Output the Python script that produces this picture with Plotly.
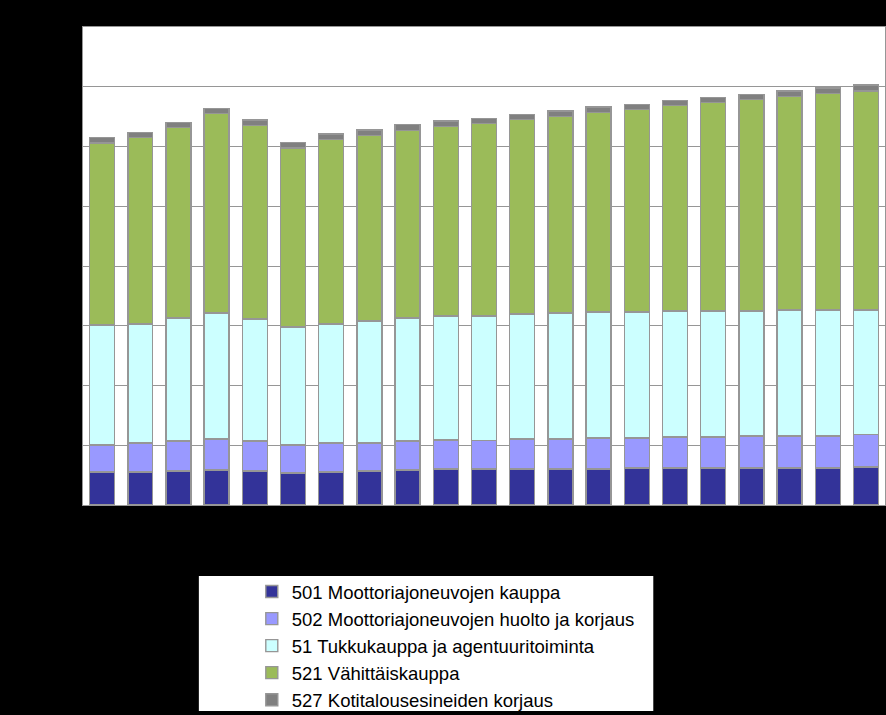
import plotly.graph_objects as go

years = [str(y) for y in range(1995, 2016)]

s501 = [27.6, 27.6, 28.5, 29.3, 28.5, 26.8, 27.6, 28.5, 29.3, 30.1, 30.1,
        30.1, 30.1, 30.1, 31.0, 31.0, 31.0, 31.0, 31.0, 31.0, 31.8]
s502 = [22.6, 24.3, 25.1, 25.9, 25.1, 23.4, 24.3, 23.4, 24.3, 24.3, 23.7,
        25.1, 25.1, 25.9, 25.1, 25.9, 25.9, 26.8, 26.8, 26.8, 27.0]
s51 = [100.4, 99.6, 102.9, 105.4, 102.1, 98.7, 99.6, 102.1, 102.9, 103.8, 104.3,
       104.6, 105.4, 105.4, 105.4, 105.4, 105.4, 104.6, 105.4, 105.4, 104.3]
s521 = [152.3, 155.9, 159.2, 166.8, 161.8, 149.8, 154.2, 155.1, 157.1, 158.4, 160.9,
        162.6, 164.6, 167.1, 169.3, 171.8, 174.3, 176.8, 178.8, 181.0, 183.5]
s527 = [4.4, 4.4, 4.6, 4.6, 4.6, 4.8, 4.6, 4.6, 4.6, 4.8, 4.4,
        4.6, 4.6, 4.6, 4.6, 4.4, 4.4, 4.4, 4.6, 4.8, 4.8]

names = ["501 Moottoriajoneuvojen kauppa",
         "502 Moottoriajoneuvojen huolto ja korjaus",
         "51 Tukkukauppa ja agentuuritoiminta",
         "521 Vähittäiskauppa",
         "527 Kotitalousesineiden korjaus"]
colors = ["#333399", "#9999FF", "#CCFFFF", "#9BBB59", "#808080"]
series = [s501, s502, s51, s521, s527]

fig = go.Figure()
for i, (n, c, s) in enumerate(zip(names, colors, series)):
    fig.add_trace(go.Bar(
        x=years, y=s, name=n, legendgroup=f"g{i}",
        marker=dict(color=c, line=dict(color="#969696", width=1.4)),
    ))

fig.update_layout(
    width=886, height=715,
    barmode="stack", bargap=0.346,
    paper_bgcolor="black", plot_bgcolor="white",
    margin=dict(l=83, r=1, t=27, b=210, autoexpand=False),
    font=dict(family="Liberation Sans, Arial, sans-serif", color="black", size=13),
    showlegend=True,
    legend=dict(
        x=(252 - 83) / 803, y=(505 - 573) / 478, xanchor="left", yanchor="top",
        bgcolor="rgba(0,0,0,0)", borderwidth=0,
        font=dict(size=18.5, color="black", family="Liberation Sans, Arial, sans-serif"),
        traceorder="grouped", tracegroupgap=0,
    ),
    shapes=[dict(
        type="rect", xref="paper", yref="paper",
        x0=(199 - 83) / 803, x1=(654 - 83) / 803,
        y0=(505 - 711) / 478, y1=(505 - 576) / 478,
        fillcolor="white", line=dict(width=0), layer="below",
    )],
)
fig.update_yaxes(
    range=[0, 400], dtick=50, showgrid=True, gridcolor="#969696", gridwidth=1,
    showline=True, linecolor="#969696", linewidth=1, mirror=True,
    tickfont=dict(color="black"), zeroline=False,
)
fig.update_xaxes(
    showline=True, linecolor="#969696", linewidth=1, mirror=True,
    tickfont=dict(color="black"), ticks="outside", tickcolor="black",
)

fig.write_html("out.html", config={"displayModeBar": False},
               post_script="document.body.style.margin='0';")
